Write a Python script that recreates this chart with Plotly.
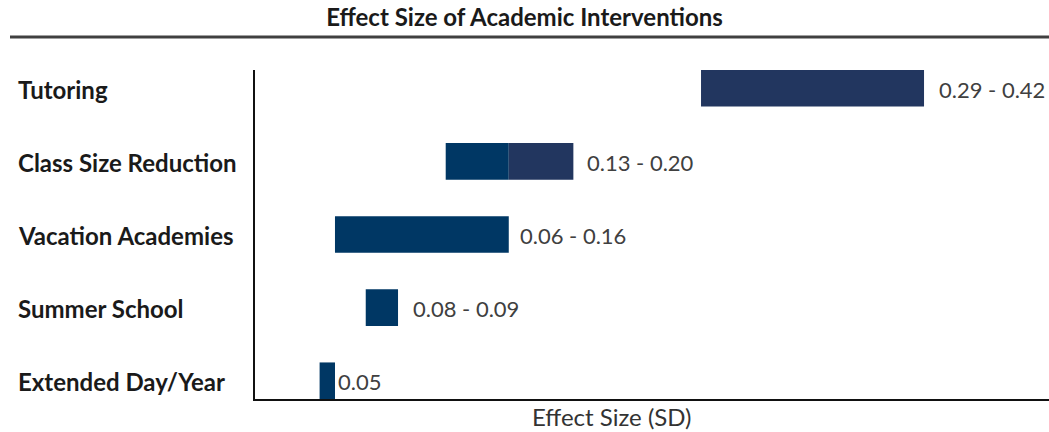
import plotly.graph_objects as go

# ---- data ----
categories = ["Tutoring", "Class Size Reduction", "Vacation Academies", "Summer School", "Extended Day/Year"]
low = [0.290, 0.124, 0.052, 0.072, 0.042]
dark_end = [0.290, 0.165, 0.165, 0.093, 0.052]
high = [0.435, 0.207, 0.165, 0.093, 0.052]
labels = ["0.29 - 0.42", "0.13 - 0.20", "0.06 - 0.16", "0.08 - 0.09", "0.05"]

# ---- style ----
label_shift = [13, 12, 9, 13, 1]
DARK = "#003764"
SLATE = "#22365f"
FONT = "Lato"

W, H = 1049, 432
L, R, T, B = 255, 0, 70, 33
pw, ph = W - L - R, H - T - B

fig = go.Figure()
fig.add_trace(go.Bar(
    orientation="h", y=categories, base=low,
    x=[d - l for d, l in zip(dark_end, low)],
    width=0.5, marker=dict(color=DARK, line=dict(width=0)), showlegend=False,
))
fig.add_trace(go.Bar(
    orientation="h", y=categories, base=dark_end,
    x=[h - d for h, d in zip(high, dark_end)],
    width=0.5, marker=dict(color=SLATE, line=dict(width=0)), showlegend=False,
))

ann = []
for c, h, t, s in zip(categories, high, labels, label_shift):
    ann.append(dict(x=h, y=c, xref="x", yref="y", text=t, showarrow=False,
                    xanchor="left", yanchor="middle", xshift=s, yshift=-1,
                    font=dict(family=FONT, size=22, color="#404040")))
for c in categories:
    ann.append(dict(x=(16 - L) / pw, y=c, xref="paper", yref="y", text="<b>" + c + "</b>",
                    showarrow=False, xanchor="left", yanchor="middle", yshift=-1,
                    font=dict(family=FONT, size=24, color="#1a1a1a")))
ann.append(dict(x=(612 - L) / pw, y=0, xref="paper", yref="paper", text="Effect Size (SD)",
                showarrow=False, xanchor="center", yanchor="top", yshift=-1,
                font=dict(family=FONT, size=24, color="#333333")))

fig.update_layout(
    width=W, height=H,
    margin=dict(l=L, r=R, t=T, b=B),
    paper_bgcolor="white", plot_bgcolor="white",
    barmode="overlay",
    title=dict(text="<b>Effect Size of Academic Interventions</b>", x=0.5, xanchor="center",
               y=1 - 18 / H, yanchor="middle",
               font=dict(family=FONT, size=24, color="#1a1a1a")),
    xaxis=dict(range=[0, pw / 1538], showline=True, linecolor="#111111", linewidth=2,
               showgrid=False, zeroline=False, showticklabels=False, ticks=""),
    yaxis=dict(range=[4.25, -0.25], showline=True, linecolor="#111111", linewidth=2,
               showgrid=False, zeroline=False, showticklabels=False, ticks=""),
    annotations=ann,
    shapes=[dict(type="line", xref="paper", yref="paper",
                 x0=(10 - L) / pw, x1=1, y0=(H - B - 37) / ph, y1=(H - B - 37) / ph,
                 line=dict(color="#404040", width=3))],
)

fig.write_html("out.html")
